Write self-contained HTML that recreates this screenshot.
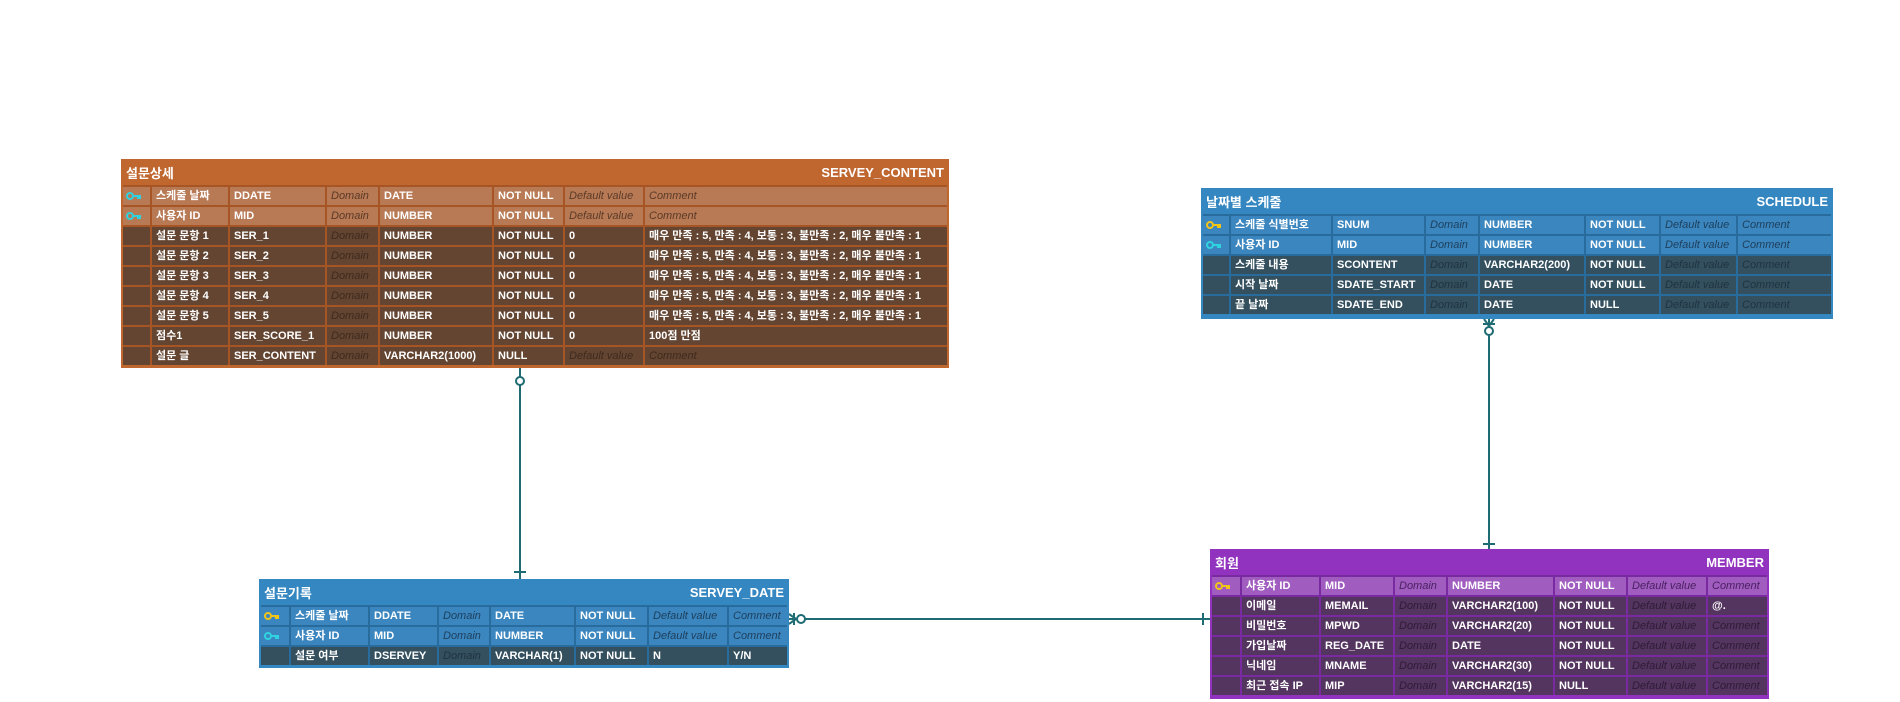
<!DOCTYPE html>
<html><head><meta charset="utf-8"><style>
body{margin:0;width:1900px;height:702px;background:#fff;position:relative;overflow:hidden;font-family:"Liberation Sans","Noto Sans CJK KR",sans-serif;}
.ent{position:absolute;box-sizing:border-box;padding:0 2px 3px 2px;}
.hd{height:26px;display:flex;justify-content:space-between;align-items:center;padding:0 3px;color:#fff;font-size:13px;font-weight:bold;}
.g{display:grid;gap:2px;padding-top:2px;}
.c{height:18px;line-height:18px;font-size:11px;font-weight:bold;color:#fff;padding-left:4px;white-space:nowrap;overflow:hidden;box-sizing:border-box;}
.i{font-style:italic;font-weight:normal;}
.k{padding-left:3px;}
.k svg{vertical-align:middle;}
</style></head><body>
<svg width="1900" height="702" style="position:absolute;left:0;top:0" fill="none" stroke="#1f6b74" stroke-width="2">
<line x1="520" y1="368" x2="520" y2="579"/>
<circle cx="520" cy="381" r="4" fill="#fff"/>
<line x1="514" y1="572" x2="526" y2="572"/>
<line x1="1489" y1="319" x2="1489" y2="549"/>
<circle cx="1489" cy="331" r="4" fill="#fff"/>
<line x1="1489" y1="326" x2="1484" y2="319"/><line x1="1489" y1="326" x2="1494" y2="319"/>
<line x1="1483" y1="324" x2="1495" y2="324"/>
<line x1="1483" y1="544" x2="1495" y2="544"/>
<line x1="789" y1="619" x2="1210" y2="619"/>
<circle cx="801" cy="619" r="4" fill="#fff"/>
<line x1="796" y1="619" x2="789" y2="614"/><line x1="796" y1="619" x2="789" y2="624"/>
<line x1="794" y1="613" x2="794" y2="625"/>
<line x1="1203" y1="613" x2="1203" y2="625"/>
</svg>

<!-- SERVEY_CONTENT -->
<div class="ent" style="left:121px;top:159px;width:828px;height:209px;background:#c0662f">
<div class="hd"><span>설문상세</span><span>SERVEY_CONTENT</span></div>
<div class="g" style="grid-template-columns:27px 76px 95px 51px 112px 69px 78px 1fr;background:#a85526">
<div class="c k" style="background:#b87a55"><svg width="16" height="10"><circle cx="4" cy="5" r="3" stroke="#2fd3e0" stroke-width="2" fill="none"/><path d="M7 5h8M12 5v3M14 5v3" stroke="#2fd3e0" stroke-width="2"/></svg></div><div class="c" style="background:#b87a55">스케줄 날짜</div><div class="c" style="background:#b87a55">DDATE</div><div class="c i" style="background:#b87a55;color:#5a3a28">Domain</div><div class="c" style="background:#b87a55">DATE</div><div class="c" style="background:#b87a55">NOT NULL</div><div class="c i" style="background:#b87a55;color:#5a3a28">Default value</div><div class="c i" style="background:#b87a55;color:#5a3a28">Comment</div>
<div class="c k" style="background:#b87a55"><svg width="16" height="10"><circle cx="4" cy="5" r="3" stroke="#2fd3e0" stroke-width="2" fill="none"/><path d="M7 5h8M12 5v3M14 5v3" stroke="#2fd3e0" stroke-width="2"/></svg></div><div class="c" style="background:#b87a55">사용자 ID</div><div class="c" style="background:#b87a55">MID</div><div class="c i" style="background:#b87a55;color:#5a3a28">Domain</div><div class="c" style="background:#b87a55">NUMBER</div><div class="c" style="background:#b87a55">NOT NULL</div><div class="c i" style="background:#b87a55;color:#5a3a28">Default value</div><div class="c i" style="background:#b87a55;color:#5a3a28">Comment</div>
<div class="c" style="background:#634532"></div><div class="c" style="background:#634532">설문 문항 1</div><div class="c" style="background:#634532">SER_1</div><div class="c i" style="background:#634532;color:#3e2a1e">Domain</div><div class="c" style="background:#634532">NUMBER</div><div class="c" style="background:#634532">NOT NULL</div><div class="c" style="background:#634532">0</div><div class="c" style="background:#634532">매우 만족 : 5, 만족 : 4, 보통 : 3, 불만족 : 2, 매우 불만족 : 1</div>
<div class="c" style="background:#634532"></div><div class="c" style="background:#634532">설문 문항 2</div><div class="c" style="background:#634532">SER_2</div><div class="c i" style="background:#634532;color:#3e2a1e">Domain</div><div class="c" style="background:#634532">NUMBER</div><div class="c" style="background:#634532">NOT NULL</div><div class="c" style="background:#634532">0</div><div class="c" style="background:#634532">매우 만족 : 5, 만족 : 4, 보통 : 3, 불만족 : 2, 매우 불만족 : 1</div>
<div class="c" style="background:#634532"></div><div class="c" style="background:#634532">설문 문항 3</div><div class="c" style="background:#634532">SER_3</div><div class="c i" style="background:#634532;color:#3e2a1e">Domain</div><div class="c" style="background:#634532">NUMBER</div><div class="c" style="background:#634532">NOT NULL</div><div class="c" style="background:#634532">0</div><div class="c" style="background:#634532">매우 만족 : 5, 만족 : 4, 보통 : 3, 불만족 : 2, 매우 불만족 : 1</div>
<div class="c" style="background:#634532"></div><div class="c" style="background:#634532">설문 문항 4</div><div class="c" style="background:#634532">SER_4</div><div class="c i" style="background:#634532;color:#3e2a1e">Domain</div><div class="c" style="background:#634532">NUMBER</div><div class="c" style="background:#634532">NOT NULL</div><div class="c" style="background:#634532">0</div><div class="c" style="background:#634532">매우 만족 : 5, 만족 : 4, 보통 : 3, 불만족 : 2, 매우 불만족 : 1</div>
<div class="c" style="background:#634532"></div><div class="c" style="background:#634532">설문 문항 5</div><div class="c" style="background:#634532">SER_5</div><div class="c i" style="background:#634532;color:#3e2a1e">Domain</div><div class="c" style="background:#634532">NUMBER</div><div class="c" style="background:#634532">NOT NULL</div><div class="c" style="background:#634532">0</div><div class="c" style="background:#634532">매우 만족 : 5, 만족 : 4, 보통 : 3, 불만족 : 2, 매우 불만족 : 1</div>
<div class="c" style="background:#634532"></div><div class="c" style="background:#634532">점수1</div><div class="c" style="background:#634532">SER_SCORE_1</div><div class="c i" style="background:#634532;color:#3e2a1e">Domain</div><div class="c" style="background:#634532">NUMBER</div><div class="c" style="background:#634532">NOT NULL</div><div class="c" style="background:#634532">0</div><div class="c" style="background:#634532">100점 만점</div>
<div class="c" style="background:#634532"></div><div class="c" style="background:#634532">설문 글</div><div class="c" style="background:#634532">SER_CONTENT</div><div class="c i" style="background:#634532;color:#3e2a1e">Domain</div><div class="c" style="background:#634532">VARCHAR2(1000)</div><div class="c" style="background:#634532">NULL</div><div class="c i" style="background:#634532;color:#3e2a1e">Default value</div><div class="c i" style="background:#634532;color:#3e2a1e">Comment</div>
</div></div>

<!-- SCHEDULE -->
<div class="ent" style="left:1201px;top:188px;width:632px;height:131px;background:#3587c2">
<div class="hd"><span>날짜별 스케줄</span><span>SCHEDULE</span></div>
<div class="g" style="grid-template-columns:26px 100px 91px 52px 104px 73px 75px 1fr;background:#286c9e">
<div class="c k" style="background:#3b86bf"><svg width="16" height="10"><circle cx="4" cy="5" r="3" stroke="#f0c419" stroke-width="2" fill="none"/><path d="M7 5h8M12 5v3M14 5v3" stroke="#f0c419" stroke-width="2"/></svg></div><div class="c" style="background:#3b86bf">스케줄 식별번호</div><div class="c" style="background:#3b86bf">SNUM</div><div class="c i" style="background:#3b86bf;color:#1d3f5c">Domain</div><div class="c" style="background:#3b86bf">NUMBER</div><div class="c" style="background:#3b86bf">NOT NULL</div><div class="c i" style="background:#3b86bf;color:#1d3f5c">Default value</div><div class="c i" style="background:#3b86bf;color:#1d3f5c">Comment</div>
<div class="c k" style="background:#3b86bf"><svg width="16" height="10"><circle cx="4" cy="5" r="3" stroke="#2fd3e0" stroke-width="2" fill="none"/><path d="M7 5h8M12 5v3M14 5v3" stroke="#2fd3e0" stroke-width="2"/></svg></div><div class="c" style="background:#3b86bf">사용자 ID</div><div class="c" style="background:#3b86bf">MID</div><div class="c i" style="background:#3b86bf;color:#1d3f5c">Domain</div><div class="c" style="background:#3b86bf">NUMBER</div><div class="c" style="background:#3b86bf">NOT NULL</div><div class="c i" style="background:#3b86bf;color:#1d3f5c">Default value</div><div class="c i" style="background:#3b86bf;color:#1d3f5c">Comment</div>
<div class="c" style="background:#34505f"></div><div class="c" style="background:#34505f">스케줄 내용</div><div class="c" style="background:#34505f">SCONTENT</div><div class="c i" style="background:#34505f;color:#1f3340">Domain</div><div class="c" style="background:#34505f">VARCHAR2(200)</div><div class="c" style="background:#34505f">NOT NULL</div><div class="c i" style="background:#34505f;color:#1f3340">Default value</div><div class="c i" style="background:#34505f;color:#1f3340">Comment</div>
<div class="c" style="background:#34505f"></div><div class="c" style="background:#34505f">시작 날짜</div><div class="c" style="background:#34505f">SDATE_START</div><div class="c i" style="background:#34505f;color:#1f3340">Domain</div><div class="c" style="background:#34505f">DATE</div><div class="c" style="background:#34505f">NOT NULL</div><div class="c i" style="background:#34505f;color:#1f3340">Default value</div><div class="c i" style="background:#34505f;color:#1f3340">Comment</div>
<div class="c" style="background:#34505f"></div><div class="c" style="background:#34505f">끝 날짜</div><div class="c" style="background:#34505f">SDATE_END</div><div class="c i" style="background:#34505f;color:#1f3340">Domain</div><div class="c" style="background:#34505f">DATE</div><div class="c" style="background:#34505f">NULL</div><div class="c i" style="background:#34505f;color:#1f3340">Default value</div><div class="c i" style="background:#34505f;color:#1f3340">Comment</div>
</div></div>

<!-- MEMBER -->
<div class="ent" style="left:1210px;top:549px;width:559px;height:150px;background:#9133bf">
<div class="hd"><span>회원</span><span>MEMBER</span></div>
<div class="g" style="grid-template-columns:28px 77px 72px 51px 105px 71px 78px 1fr;background:#7a2aa0">
<div class="c k" style="background:#a05cbf"><svg width="16" height="10"><circle cx="4" cy="5" r="3" stroke="#f0c419" stroke-width="2" fill="none"/><path d="M7 5h8M12 5v3M14 5v3" stroke="#f0c419" stroke-width="2"/></svg></div><div class="c" style="background:#a05cbf">사용자 ID</div><div class="c" style="background:#a05cbf">MID</div><div class="c i" style="background:#a05cbf;color:#4a2060">Domain</div><div class="c" style="background:#a05cbf">NUMBER</div><div class="c" style="background:#a05cbf">NOT NULL</div><div class="c i" style="background:#a05cbf;color:#4a2060">Default value</div><div class="c i" style="background:#a05cbf;color:#4a2060">Comment</div>
<div class="c" style="background:#54355f"></div><div class="c" style="background:#54355f">이메일</div><div class="c" style="background:#54355f">MEMAIL</div><div class="c i" style="background:#54355f;color:#2e1c36">Domain</div><div class="c" style="background:#54355f">VARCHAR2(100)</div><div class="c" style="background:#54355f">NOT NULL</div><div class="c i" style="background:#54355f;color:#2e1c36">Default value</div><div class="c" style="background:#54355f">@.</div>
<div class="c" style="background:#54355f"></div><div class="c" style="background:#54355f">비밀번호</div><div class="c" style="background:#54355f">MPWD</div><div class="c i" style="background:#54355f;color:#2e1c36">Domain</div><div class="c" style="background:#54355f">VARCHAR2(20)</div><div class="c" style="background:#54355f">NOT NULL</div><div class="c i" style="background:#54355f;color:#2e1c36">Default value</div><div class="c i" style="background:#54355f;color:#2e1c36">Comment</div>
<div class="c" style="background:#54355f"></div><div class="c" style="background:#54355f">가입날짜</div><div class="c" style="background:#54355f">REG_DATE</div><div class="c i" style="background:#54355f;color:#2e1c36">Domain</div><div class="c" style="background:#54355f">DATE</div><div class="c" style="background:#54355f">NOT NULL</div><div class="c i" style="background:#54355f;color:#2e1c36">Default value</div><div class="c i" style="background:#54355f;color:#2e1c36">Comment</div>
<div class="c" style="background:#54355f"></div><div class="c" style="background:#54355f">닉네임</div><div class="c" style="background:#54355f">MNAME</div><div class="c i" style="background:#54355f;color:#2e1c36">Domain</div><div class="c" style="background:#54355f">VARCHAR2(30)</div><div class="c" style="background:#54355f">NOT NULL</div><div class="c i" style="background:#54355f;color:#2e1c36">Default value</div><div class="c i" style="background:#54355f;color:#2e1c36">Comment</div>
<div class="c" style="background:#54355f"></div><div class="c" style="background:#54355f">최근 접속 IP</div><div class="c" style="background:#54355f">MIP</div><div class="c i" style="background:#54355f;color:#2e1c36">Domain</div><div class="c" style="background:#54355f">VARCHAR2(15)</div><div class="c" style="background:#54355f">NULL</div><div class="c i" style="background:#54355f;color:#2e1c36">Default value</div><div class="c i" style="background:#54355f;color:#2e1c36">Comment</div>
</div></div>

<!-- SERVEY_DATE -->
<div class="ent" style="left:259px;top:579px;width:530px;height:89px;background:#3587c2">
<div class="hd"><span>설문기록</span><span>SERVEY_DATE</span></div>
<div class="g" style="grid-template-columns:28px 77px 67px 50px 83px 71px 78px 1fr;background:#286c9e">
<div class="c k" style="background:#3b86bf"><svg width="16" height="10"><circle cx="4" cy="5" r="3" stroke="#f0c419" stroke-width="2" fill="none"/><path d="M7 5h8M12 5v3M14 5v3" stroke="#f0c419" stroke-width="2"/></svg></div><div class="c" style="background:#3b86bf">스케줄 날짜</div><div class="c" style="background:#3b86bf">DDATE</div><div class="c i" style="background:#3b86bf;color:#1d3f5c">Domain</div><div class="c" style="background:#3b86bf">DATE</div><div class="c" style="background:#3b86bf">NOT NULL</div><div class="c i" style="background:#3b86bf;color:#1d3f5c">Default value</div><div class="c i" style="background:#3b86bf;color:#1d3f5c">Comment</div>
<div class="c k" style="background:#3b86bf"><svg width="16" height="10"><circle cx="4" cy="5" r="3" stroke="#2fd3e0" stroke-width="2" fill="none"/><path d="M7 5h8M12 5v3M14 5v3" stroke="#2fd3e0" stroke-width="2"/></svg></div><div class="c" style="background:#3b86bf">사용자 ID</div><div class="c" style="background:#3b86bf">MID</div><div class="c i" style="background:#3b86bf;color:#1d3f5c">Domain</div><div class="c" style="background:#3b86bf">NUMBER</div><div class="c" style="background:#3b86bf">NOT NULL</div><div class="c i" style="background:#3b86bf;color:#1d3f5c">Default value</div><div class="c i" style="background:#3b86bf;color:#1d3f5c">Comment</div>
<div class="c" style="background:#34505f"></div><div class="c" style="background:#34505f">설문 여부</div><div class="c" style="background:#34505f">DSERVEY</div><div class="c i" style="background:#34505f;color:#1f3340">Domain</div><div class="c" style="background:#34505f">VARCHAR(1)</div><div class="c" style="background:#34505f">NOT NULL</div><div class="c" style="background:#34505f">N</div><div class="c" style="background:#34505f">Y/N</div>
</div></div>
</body></html>
